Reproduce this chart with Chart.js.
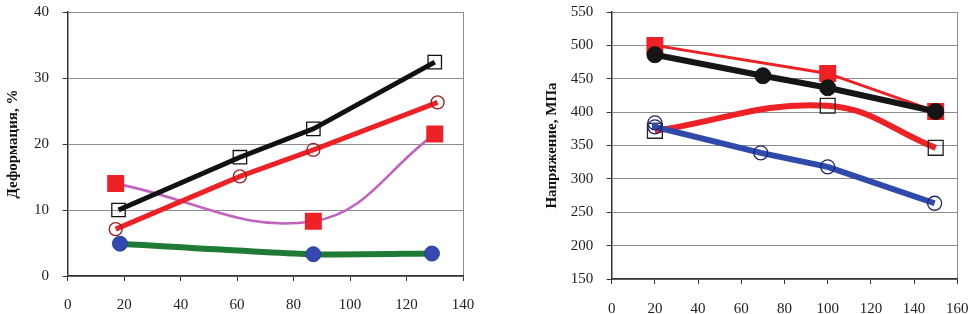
<!DOCTYPE html>
<html lang="ru">
<head>
<meta charset="UTF-8">
<title>Деформация и напряжение</title>
<script src="https://cdn.jsdelivr.net/npm/chart.js"></script>
<style>
    html, body { margin: 0; padding: 0; background: #fff; }
    #wrap { position: relative; width: 975px; height: 314px; overflow: hidden; }
    #leftChart { position: absolute; left: 0; top: 0; }
    #rightChart { position: absolute; left: 490px; top: 0; }
</style>
</head>
<body>
<div id="wrap">
    <canvas id="leftChart" width="490" height="314"></canvas>
    <canvas id="rightChart" width="485" height="314"></canvas>
</div>
<script>
// --- Левый график: деформация, % ---
const leftTitle = 'Деформация, %';
const leftXTicks = [0, 20, 40, 60, 80, 100, 120, 140];
const leftYTicks = [0, 10, 20, 30, 40];

const defBlackX = [18, 61, 87, 130];
const defBlackY = [10, 18, 22.3, 32.4];
const defRedX = [17, 61, 87, 131];
const defRedY = [7.1, 15.1, 19.1, 26.3];
const defGreenX = [18.5, 87, 129];
const defGreenY = [4.9, 3.3, 3.4];
const defMagentaX = [17, 87, 130];
const defMagentaY = [14.0, 8.3, 21.5];

// --- Правый график: напряжение, МПа ---
const rightTitle = 'Напряжение, МПа';
const rightXTicks = [0, 20, 40, 60, 80, 100, 120, 140, 160];
const rightYTicks = [150, 200, 250, 300, 350, 400, 450, 500, 550];

const napBlackX = [20, 70, 100, 150];
const napBlackY = [486, 454.5, 436.5, 401];
const napBlueX = [20, 20, 69, 100, 149.5];
const napBlueY = [384, 378, 339, 318, 263.5];
const napRedThickX = [20, 100, 150];
const napRedThickY = [372, 409.5, 346.5];
const napRedThinX = [20, 100, 150];
const napRedThinY = [500, 458, 401];

const RED = '#ee2226';
const GRID = '#8c8c8c';
const AXIS = '#333333';
const tickFont = { family: '"Liberation Serif", "DejaVu Serif", serif', size: 15, lineHeight: 1 };
const titleFont = { family: '"Liberation Serif", "DejaVu Serif", serif', size: 15, weight: 'bold', lineHeight: 1.2 };

function pts(xs, ys) {
    return xs.map((x, i) => ({ x: x, y: ys[i] }));
}

function series(xs, ys, style) {
    return Object.assign({
        data: pts(xs, ys),
        showLine: true,
        tension: 0,
        pointHoverRadius: 0
    }, style);
}

function makeScales(xTicks, yTicks, cfg) {
    return {
        x: {
            type: 'linear',
            min: xTicks[0],
            max: xTicks[xTicks.length - 1],
            afterBuildTicks: s => { s.ticks = xTicks.map(v => ({ value: v })); },
            afterFit: s => { s.height = cfg.xHeight; s.paddingLeft = 0; s.paddingRight = 0; },
            ticks: { font: tickFont, color: '#222', padding: cfg.xPad, maxRotation: 0, autoSkip: false },
            grid: {
                color: ctx => ctx.index === xTicks.length - 1 ? GRID : 'transparent',
                tickColor: AXIS,
                tickLength: 5,
                lineWidth: 1
            },
            border: { color: AXIS, width: 1.5 }
        },
        y: {
            type: 'linear',
            min: yTicks[0],
            max: yTicks[yTicks.length - 1],
            afterBuildTicks: s => { s.ticks = yTicks.map(v => ({ value: v })); },
            afterFit: s => { s.width = cfg.yWidth; s.paddingTop = 0; s.paddingBottom = 0; },
            ticks: { font: tickFont, color: '#222', padding: cfg.yPad },
            grid: { color: GRID, tickColor: AXIS, tickLength: 5, lineWidth: 1 },
            border: { color: AXIS, width: 1.5 },
            title: { display: true, text: cfg.title, font: titleFont, color: '#111', padding: { top: 3, bottom: 0 } }
        }
    };
}

const commonOpts = {
    responsive: false,
    animation: false,
    events: [],
    plugins: { legend: { display: false }, tooltip: { enabled: false } }
};

new Chart(document.getElementById('leftChart'), {
    type: 'scatter',
    data: {
        datasets: [
            series(defBlackX, defBlackY, {
                borderColor: '#111', borderWidth: 5,
                pointStyle: 'rect', pointRadius: 9.5,
                pointBorderColor: '#111', pointBorderWidth: 1.3, pointBackgroundColor: 'rgba(0,0,0,0)'
            }),
            series(defRedX, defRedY, {
                borderColor: RED, borderWidth: 5,
                pointStyle: 'circle', pointRadius: 6.5,
                pointBorderColor: '#9a2020', pointBorderWidth: 1.3, pointBackgroundColor: 'rgba(0,0,0,0)'
            }),
            series(defGreenX, defGreenY, {
                borderColor: '#1f7a35', borderWidth: 6, tension: 0.2,
                pointStyle: 'circle', pointRadius: 7.5,
                pointBorderColor: '#2c3f9e', pointBorderWidth: 1, pointBackgroundColor: '#3448b0'
            }),
            series(defMagentaX, defMagentaY, {
                borderColor: '#c064c0', borderWidth: 2.6, tension: 0.4,
                pointStyle: 'rect', pointRadius: 12,
                pointBorderWidth: 0, pointBorderColor: RED, pointBackgroundColor: RED
            })
        ]
    },
    options: Object.assign({}, commonOpts, {
        layout: { padding: { left: 1, right: 27, top: 10, bottom: 0 } },
        scales: makeScales(leftXTicks, leftYTicks, { xHeight: 38, xPad: 17, yWidth: 66.7, yPad: 13.7, title: leftTitle })
    })
});

new Chart(document.getElementById('rightChart'), {
    type: 'scatter',
    data: {
        datasets: [
            series(napBlackX, napBlackY, {
                borderColor: '#151515', borderWidth: 6,
                pointStyle: 'circle', pointRadius: 8,
                pointBorderColor: '#151515', pointBorderWidth: 1, pointBackgroundColor: '#151515'
            }),
            series(napBlueX, napBlueY, {
                borderColor: '#2f4aaa', borderWidth: 6,
                pointStyle: 'circle', pointRadius: 7,
                pointBorderColor: '#24246e', pointBorderWidth: 1.3, pointBackgroundColor: 'rgba(0,0,0,0)'
            }),
            series(napRedThickX, napRedThickY, {
                borderColor: RED, borderWidth: 6, tension: 0.4,
                pointStyle: 'rect', pointRadius: 10.5,
                pointBorderColor: '#222', pointBorderWidth: 1.3, pointBackgroundColor: 'rgba(0,0,0,0)'
            }),
            series(napRedThinX, napRedThinY, {
                borderColor: RED, borderWidth: 3,
                pointStyle: 'rect', pointRadius: 12,
                pointBorderWidth: 0, pointBorderColor: RED, pointBackgroundColor: RED
            })
        ]
    },
    options: Object.assign({}, commonOpts, {
        layout: { padding: { left: 49.7, right: 17.7, top: 9.7, bottom: 0 } },
        scales: makeScales(rightXTicks, rightYTicks, { xHeight: 35, xPad: 17.5, yWidth: 72, yPad: 13.4, title: rightTitle })
    })
});
</script>
</body>
</html>
